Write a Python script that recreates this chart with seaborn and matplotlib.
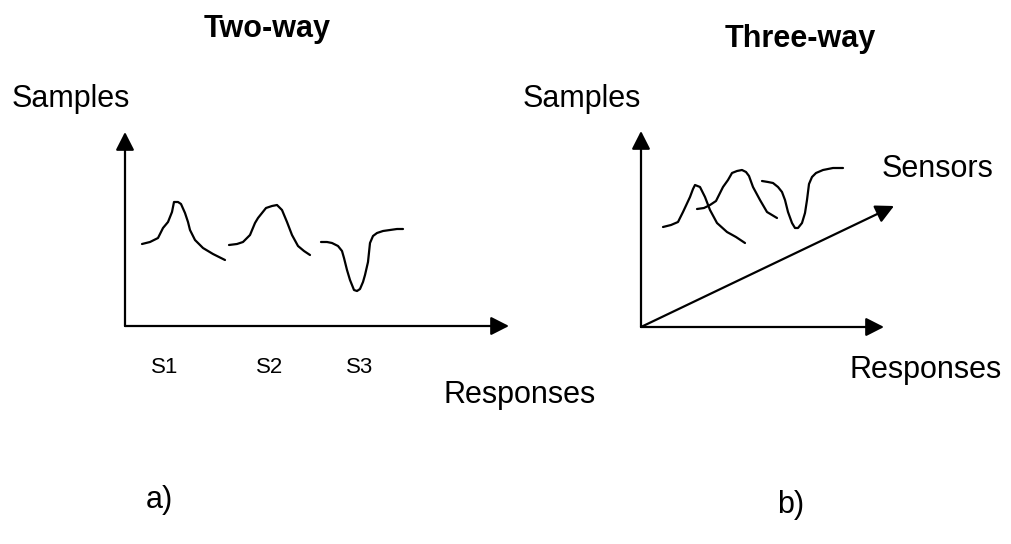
import pandas as pd
import seaborn as sns
import matplotlib.pyplot as plt

# =============================================================================
# 1. DATA (pixel coordinates)
# =============================================================================

# Two-way: one response profile per sensor
s1_x = [142, 150, 158, 163, 168, 172, 174, 178, 181, 185, 188, 190, 195, 203, 213, 225]
s1_y = [244, 242, 238, 228, 222, 212, 202, 202, 204, 213, 222, 230, 240, 248, 254, 260]

s2_x = [229, 237, 243, 250, 255, 258, 262, 266, 272, 277, 282, 287, 292, 298, 304, 310]
s2_y = [245, 244, 242, 235, 223, 218, 213, 208, 206, 205, 210, 222, 235, 246, 251, 255]

s3_x = [321, 327, 332, 338, 342, 344, 347, 350, 354, 357, 360, 363, 365, 368, 370, 373, 377, 383, 390, 397, 403]
s3_y = [242, 242, 243, 246, 251, 258, 270, 280, 290, 291, 289, 282, 275, 262, 243, 236, 233, 231, 230, 229, 229]

# Three-way: overlapping profiles
t1_x = [663, 671, 678, 683, 690, 693, 695, 700, 705, 710, 717, 727, 736, 745]
t1_y = [227, 225, 222, 212, 197, 189, 185, 187, 197, 210, 223, 232, 237, 243]

t2_x = [697, 704, 710, 716, 720, 723, 728, 732, 737, 742, 746, 749, 753, 760, 767, 777]
t2_y = [209, 208, 205, 201, 193, 187, 180, 173, 171, 170, 172, 176, 187, 200, 212, 218]

t3_x = [762, 768, 773, 778, 782, 785, 788, 792, 795, 798, 802, 805, 807, 809, 812, 816, 823, 833, 843]
t3_y = [181, 182, 183, 187, 192, 200, 212, 223, 228, 228, 223, 213, 200, 184, 177, 173, 170, 168, 168]

curve_names = ["S1", "S2", "S3", "T1", "T2", "T3"]
curve_xs = [s1_x, s2_x, s3_x, t1_x, t2_x, t3_x]
curve_ys = [s1_y, s2_y, s3_y, t1_y, t2_y, t3_y]

# axis arrows: (start, tip)
arrow_starts = [(125, 326), (125, 326), (641, 327), (641, 327), (641, 327)]
arrow_tips = [(125, 132), (509, 326), (641, 131), (884, 327), (894, 206)]

# labels
sensor_labels = ["S1", "S2", "S3"]
sensor_label_x = [165, 270, 360]

# =============================================================================
# 2. PLOT
# =============================================================================
sns.set_theme(style="white")
plt.rcParams["font.family"] = ["Liberation Sans", "DejaVu Sans"]
plt.rcParams["text.color"] = "black"

fig = plt.figure(figsize=(10.11, 5.44), dpi=100)
ax = fig.add_axes([0, 0, 1, 1])

rows = []
for name, xs, ys in zip(curve_names, curve_xs, curve_ys):
    for x, y in zip(xs, ys):
        rows.append({"curve": name, "x": x, "y": y})
df = pd.DataFrame(rows)

sns.lineplot(
    data=df,
    x="x",
    y="y",
    units="curve",
    estimator=None,
    sort=False,
    color="black",
    linewidth=1.6,
    solid_joinstyle="round",
    solid_capstyle="round",
    ax=ax,
)

for (x0, y0), (x1, y1) in zip(arrow_starts, arrow_tips):
    ax.annotate(
        "",
        xy=(x1, y1),
        xytext=(x0, y0),
        arrowprops=dict(
            arrowstyle="-|>,head_length=11,head_width=5.6",
            mutation_scale=1,
            color="black",
            lw=1.6,
            shrinkA=0,
            shrinkB=0,
        ),
    )

big = 22
txt = dict(va="baseline", color="black")
ax.text(267, 37, "Two-way", ha="center", fontsize=big, fontweight="bold", **txt)
ax.text(800, 47, "Three-way", ha="center", fontsize=big, fontweight="bold", **txt)
ax.text(12, 107, "Samples", ha="left", fontsize=big, **txt)
ax.text(523, 107, "Samples", ha="left", fontsize=big, **txt)
ax.text(882, 177, "Sensors", ha="left", fontsize=big, **txt)
ax.text(443, 403, "Responses", ha="left", fontsize=big, **txt)
ax.text(849, 378, "Responses", ha="left", fontsize=big, **txt)
for lab, x in zip(sensor_labels, sensor_label_x):
    ax.text(x, 373, lab, ha="center", fontsize=16, **txt)
ax.text(146, 508, "a)", ha="left", fontsize=big, **txt)
ax.text(777, 513, "b)", ha="left", fontsize=big, **txt)

ax.set_xlim(0, 1011)
ax.set_ylim(544, 0)
ax.axis("off")

fig.savefig("out.png", dpi=100, facecolor="white")
